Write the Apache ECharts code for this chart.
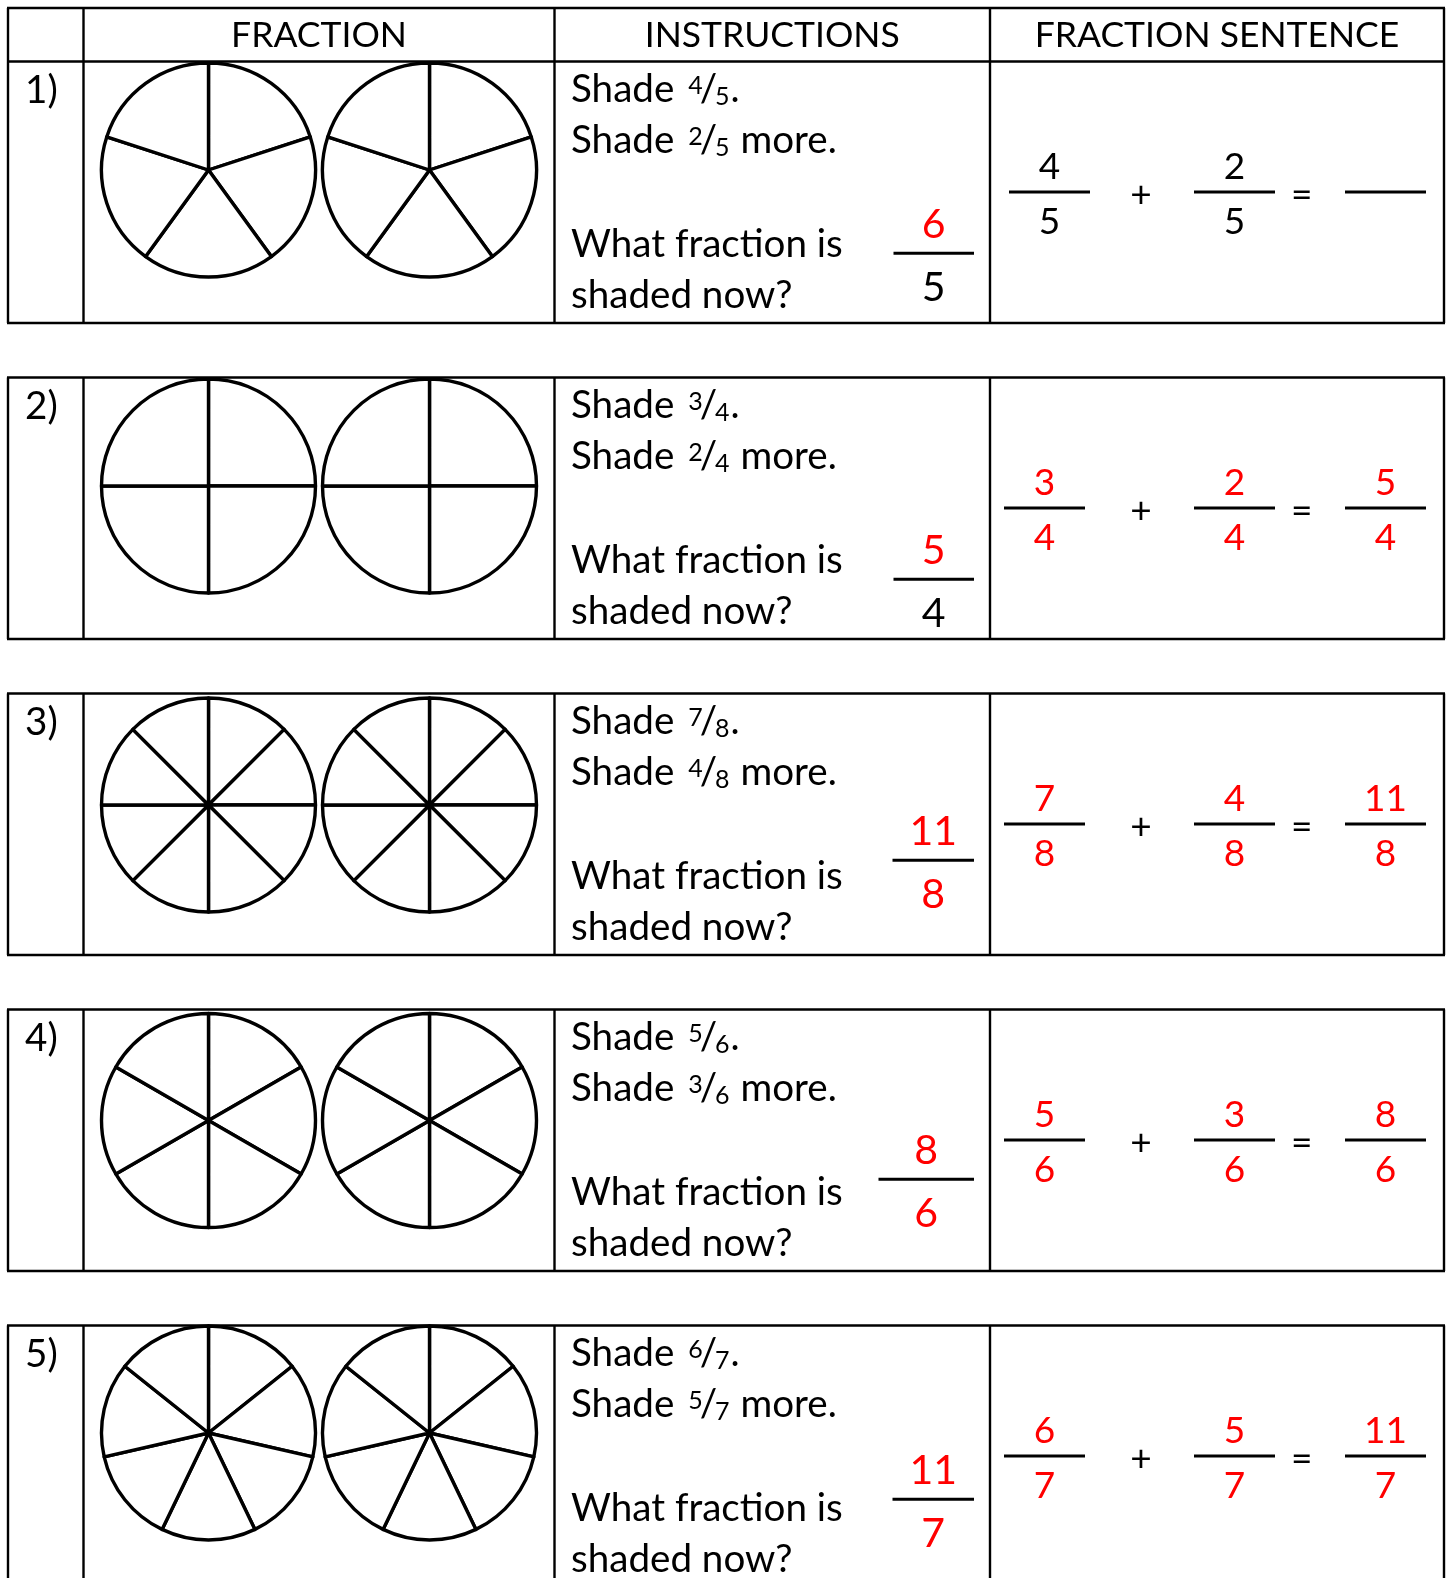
<!DOCTYPE html>
<html>
<head>
<meta charset="utf-8">
<script src="https://cdn.jsdelivr.net/npm/echarts@6/dist/echarts.min.js"></script>
<style>
  html, body { margin: 0; padding: 0; background: #fff; }
  #main { width: 1448px; height: 1578px; }
</style>
</head>
<body>
<div id="main"></div>
<script>
// worksheet data
var headers = ['FRACTION', 'INSTRUCTIONS', 'FRACTION SENTENCE'];
var rowLabels = ['1)', '2)', '3)', '4)', '5)'];
var denominators = [5, 4, 8, 6, 7];
var shadeFirst = [4, 3, 7, 5, 6];
var shadeMore = [2, 2, 4, 3, 5];
var totals = [6, 5, 11, 8, 11];
var sentenceFilled = [false, true, true, true, true];   // row 1 sentence is black, result left blank
var answerDenRed = [false, false, true, true, true];

(function () {
  // layout (px)
  var FONT = 'Lato';
  var RED = '#ff0000';
  var colX = [8, 83.5, 554.5, 990, 1444];
  var headTop = 8, firstTop = 61.5, rowPitch = 316, rowH = 261.5;
  var pieX = [208.5, 429.5];
  var pieDy = [108.5, 108.5, 111.5, 111, 107.5];
  var pieR = 107;
  var ansBar = [[893.5, 974, 191.8], [893.5, 974, 201.8], [892.5, 974, 166.8], [878.5, 974, 169.8], [892.5, 974, 173.8]];
  var sentX = [1044.5, 1234.5, 1385.5];

  var ctx = document.createElement('canvas').getContext('2d');
  function meas(str, size) {
    ctx.font = size + 'px ' + FONT;
    ctx.textBaseline = 'middle';
    return ctx.measureText(str);
  }
  function fitSize(str, w) {
    return Math.round(1000 * w / meas(str, 100).width) / 10;
  }
  // y for middle-aligned text so that its baseline lands on `base`
  function yBase(base, size) {
    return base - meas('H', size).actualBoundingBoxDescent;
  }
  // y for middle-aligned text so that the ink of `str` is centred on `c`
  function yCenter(c, str, size) {
    var m = meas(str, size);
    return c - (m.actualBoundingBoxDescent - m.actualBoundingBoxAscent) / 2;
  }

  var F = fitSize('What fraction is', 272);
  var HF = fitSize('FRACTION SENTENCE', 365);
  var SUPF = 25, AF = 41, SF = 37;

  var els = [];
  function txt(str, x, y, size, color, align) {
    els.push({
      type: 'text', silent: true,
      x: x, y: y,
      style: {
        text: str, fill: color || '#000',
        fontSize: size, fontFamily: FONT,
        textAlign: align || 'left',
        textVerticalAlign: 'middle'
      }
    });
  }
  function seg(x1, y1, x2, y2, w) {
    els.push({
      type: 'line', silent: true,
      shape: { x1: x1, y1: y1, x2: x2, y2: y2 },
      style: { stroke: '#000', lineWidth: w || 2.4 }
    });
  }
  function digitCentered(str, cx, cy, size, color) {
    txt(str, cx, yCenter(cy, str, size), size, color, 'center');
  }
  function shadeLine(x, base, a, d, tail) {
    txt('Shade', x, yBase(base, F), F);
    var xs = x + meas('Shade ', F).width + 4;
    txt(String(a), xs, yCenter(base - 17, String(a), SUPF), SUPF);
    var xsl = xs + meas(String(a), SUPF).width - 3;
    txt('/', xsl, yBase(base, F), F);
    var xd = xsl + meas('/', F).width - 2;
    txt(String(d), xd, yCenter(base - 6, String(d), SUPF), SUPF);
    txt(tail, xd + meas(String(d), SUPF).width + 1, yBase(base, F), F);
  }

  // header
  colX.forEach(function (x) { seg(x, headTop, x, firstTop); });
  seg(colX[0] - 1, headTop, colX[4] + 1, headTop);
  headers.forEach(function (h, k) {
    txt(h, (colX[k + 1] + colX[k + 2]) / 2, yBase(47, HF), HF, '#000', 'center');
  });

  var series = [];
  rowLabels.forEach(function (lab, i) {
    var rowTop = firstTop + rowPitch * i;
    var rowBot = rowTop + rowH;
    colX.forEach(function (x) { seg(x, rowTop, x, rowBot); });
    seg(colX[0] - 1, rowTop, colX[4] + 1, rowTop);
    seg(colX[0] - 1, rowBot, colX[4] + 1, rowBot);

    txt(lab, 25, yBase(rowTop + 41, F), F);

    var d = denominators[i];
    pieX.forEach(function (px) {
      var slices = [];
      for (var s = 0; s < d; s++) slices.push(1);
      series.push({
        type: 'pie', silent: true, animation: false,
        center: [px, rowTop + pieDy[i]], radius: pieR, startAngle: 90,
        label: { show: false }, labelLine: { show: false },
        emphasis: { disabled: true },
        itemStyle: { color: '#fff', borderColor: '#000', borderWidth: 3.4 },
        data: slices
      });
    });

    shadeLine(571, rowTop + 40.2, shadeFirst[i], d, '.');
    shadeLine(571, rowTop + 91.5, shadeMore[i], d, ' more.');
    txt('What fraction is', 571, yBase(rowTop + 195.2, F), F);
    txt('shaded now?', 571, yBase(rowTop + 246.8, F), F);

    // answer
    var ab = ansBar[i], acx = (ab[0] + ab[1]) / 2, aby = rowTop + ab[2];
    seg(ab[0], aby, ab[1], aby, 3);
    digitCentered(String(totals[i]), acx, aby - 29.5, AF, RED);
    digitCentered(String(d), acx, aby + 33, AF, answerDenRed[i] ? RED : '#000');

    // fraction sentence
    var sy = rowTop + 130.5;
    var sc = sentenceFilled[i] ? RED : '#000';
    var fx = [i === 0 ? 1049.5 : sentX[0], sentX[1], sentX[2]];
    var nums = [shadeFirst[i], shadeMore[i], totals[i]];
    for (var k = 0; k < 3; k++) {
      seg(fx[k] - 40.5, sy, fx[k] + 40.5, sy, 3);
      if (k < 2 || sentenceFilled[i]) {
        digitCentered(String(nums[k]), fx[k], sy - 26.3, SF, sc);
        digitCentered(String(d), fx[k], sy + 29.4, SF, sc);
      }
    }
    digitCentered('+', 1141, sy + 2.5, SF, '#000');
    digitCentered('=', 1301.7, sy + 2.5, SF, '#000');
  });

  var chart = echarts.init(document.getElementById('main'));
  chart.setOption({
    backgroundColor: '#fff',
    animation: false,
    series: series,
    graphic: { elements: els }
  });
})();
</script>
</body>
</html>
